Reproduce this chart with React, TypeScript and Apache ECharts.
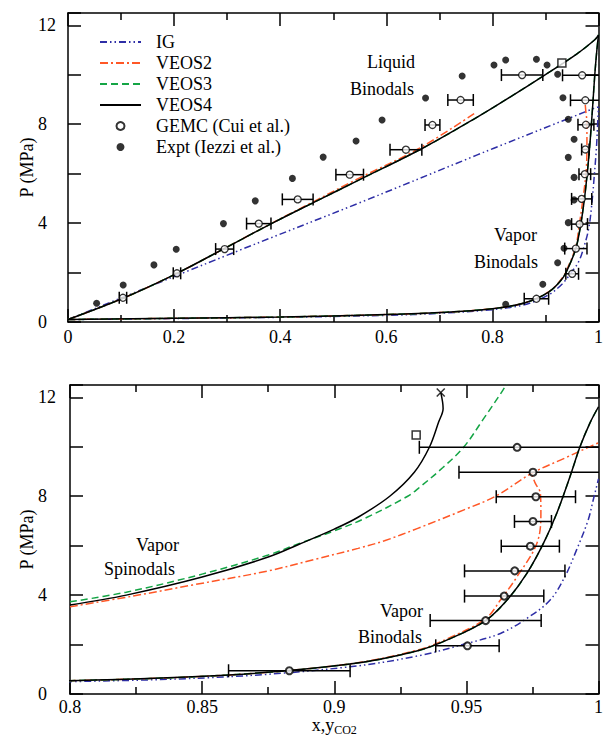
import React, { useEffect, useRef } from 'react';
import * as echarts from 'echarts';

const FONT = 'Liberation Serif, Times New Roman, serif';

// ---------- data (x or y CO2, P in MPa) ----------
const igLiquid = [[0, 0.1], [0.309, 2.78], [0.547, 4.8], [0.7715, 6.76], [0.8027, 7.03], [0.996, 8.68], [1.0, 8.7]];
const igVapor = [[0, 0.1], [0.2, 0.14], [0.4, 0.19], [0.6, 0.27], [0.7, 0.35], [0.8, 0.5], [0.8602, 0.7], [0.9059, 1.1], [0.9316, 1.54], [0.9504, 2.05], [0.9629, 2.45], [0.9729, 3.06], [0.9817, 3.8], [0.9873, 4.75], [0.9917, 5.83], [0.9961, 7.04], [0.998, 7.85], [1.0, 8.7]];

const veos2Liquid = [[0, 0.1], [0.1036, 0.96], [0.2054, 1.97], [0.297, 3.0], [0.3845, 4.0], [0.472, 4.97], [0.547, 5.8], [0.6625, 7.03], [0.7684, 8.47]];
const veos2Vapor = [[0, 0.1], [0.2, 0.15], [0.4, 0.2], [0.6, 0.3], [0.7, 0.38], [0.8, 0.54], [0.8602, 0.77], [0.9059, 1.22], [0.9316, 1.78], [0.9441, 2.3], [0.9573, 3.05], [0.9629, 3.8], [0.9692, 4.75], [0.9767, 6.1], [0.9782, 7.31], [0.978, 8.12], [0.9761, 8.52], [0.9748, 8.86]];
const veos2Spinodal = [[0.8, 3.53], [0.8232, 3.95], [0.8464, 4.41], [0.8746, 4.97], [0.8927, 5.45], [0.909, 5.89], [0.919, 6.2], [0.9316, 6.7], [0.9491, 7.45], [0.961, 8.0], [0.9748, 8.93], [0.9874, 9.55], [0.998, 10.07], [1.0, 10.16]];

const veos3Liquid = [[0, 0.1], [0.1036, 0.96], [0.2054, 1.97], [0.297, 3.0], [0.3845, 3.99], [0.472, 4.93], [0.547, 5.73], [0.6685, 7.03], [0.7715, 8.29], [0.834, 9.11], [0.8964, 9.96], [0.9588, 10.84], [0.993, 11.42], [1.0, 11.6]];
const veos3Vapor = [[0, 0.1], [0.2, 0.15], [0.4, 0.2], [0.6, 0.3], [0.7, 0.38], [0.8, 0.54], [0.8602, 0.77], [0.9059, 1.21], [0.9316, 1.75], [0.9441, 2.25], [0.9573, 2.97], [0.9654, 3.8], [0.9729, 4.88], [0.9792, 6.1], [0.9842, 7.31], [0.9892, 8.79], [0.993, 10.0], [0.9967, 10.95], [1.0, 11.62]];
const veos3Spinodal = [[0.8, 3.73], [0.8213, 4.12], [0.85, 4.85], [0.875, 5.62], [0.8865, 6.08], [0.9, 6.6], [0.9115, 7.1], [0.9278, 8.0], [0.9316, 8.3], [0.941, 9.15], [0.9491, 10.0], [0.9566, 11.15], [0.9639, 12.3], [0.9655, 12.6]];

const veos4Liquid = [[0, 0.1], [0.1036, 0.96], [0.2054, 1.97], [0.297, 3.0], [0.3845, 3.99], [0.472, 4.93], [0.547, 5.73], [0.6685, 7.03], [0.7715, 8.29], [0.834, 9.11], [0.8964, 9.96], [0.9588, 10.84], [0.993, 11.42], [1.0, 11.6]];
const veos4Vapor = [[0, 0.1], [0.2, 0.15], [0.4, 0.2], [0.6, 0.3], [0.7, 0.38], [0.8, 0.54], [0.8602, 0.77], [0.9059, 1.21], [0.9316, 1.75], [0.9441, 2.25], [0.9573, 2.97], [0.9654, 3.8], [0.9729, 4.88], [0.9792, 6.1], [0.9842, 7.31], [0.9892, 8.79], [0.993, 10.0], [0.9967, 10.95], [1.0, 11.62]];
const veos4Spinodal = [[0.8, 3.6], [0.8213, 4.0], [0.85, 4.73], [0.875, 5.54], [0.8865, 6.05], [0.9, 6.67], [0.909, 7.15], [0.921, 8.0], [0.9303, 8.97], [0.936, 9.98], [0.9395, 11.0], [0.9412, 11.55], [0.9403, 12.2]];

// GEMC: [x, P, half-width of error bar]
const gemcLiquid = [[0.1036, 0.98, 0.007], [0.2054, 1.97, 0.007], [0.2953, 2.95, 0.017], [0.3596, 3.98, 0.023], [0.433, 4.96, 0.029], [0.531, 5.96, 0.026], [0.637, 6.97, 0.03], [0.687, 7.97, 0.014], [0.74, 8.98, 0.024], [0.856, 9.99, 0.039]];
const gemcVapor = [[0.883, 0.94, 0.023], [0.9504, 1.95, 0.012], [0.9573, 2.97, 0.021], [0.9643, 3.96, 0.015], [0.9683, 4.98, 0.019], [0.9742, 5.98, 0.011], [0.9752, 6.98, 0.007], [0.9763, 7.98, 0.015], [0.9752, 8.97, 0.028], [0.9692, 9.98, 0.037]];

const expt = [[0.054, 0.76], [0.104, 1.5], [0.162, 2.31], [0.204, 2.94], [0.293, 3.98], [0.353, 4.9], [0.423, 5.81], [0.481, 6.67], [0.543, 7.32], [0.592, 8.17], [0.674, 9.06], [0.743, 9.95], [0.803, 10.4], [0.825, 10.6], [0.883, 10.63], [0.903, 10.4], [0.923, 10.02], [0.933, 9.07], [0.943, 8.2], [0.954, 7.39], [0.943, 6.66], [0.954, 5.85], [0.954, 4.94], [0.943, 4.02], [0.935, 2.98], [0.923, 2.4], [0.895, 1.53], [0.825, 0.72]];

const criticalSquare = [[0.931, 10.48]];
const spinodalEnd = [[0.9403, 12.2]];

const xTicksTop = { min: 0, max: 1, interval: 0.2 };
const xTicksBottom = { min: 0.8, max: 1, interval: 0.05 };
const yTicks = { min: 0, max: 12.5, interval: 2, labelEvery: 4 };

const lineLegendNames = ['IG', 'VEOS2', 'VEOS3', 'VEOS4'];
const markerLegendNames = ['GEMC (Cui et al.)', 'Expt (Iezzi et al.)'];

const C_IG = '#2e2ea6';
const C_V2 = '#ff5726';
const C_V3 = '#14a545';
const C_V4 = '#000000';

const DASH_IG = [7, 3, 1.5, 3, 1.5, 3];
const DASH_V2 = [8, 3, 2, 3];
const DASH_V3 = [7, 4];

const RICH = {
  t: { fontFamily: FONT, fontSize: 18, color: '#000' },
  a: { fontFamily: FONT, fontSize: 18, color: '#000', lineHeight: 16, verticalAlign: 'top' },
  s: { fontFamily: FONT, fontSize: 12, color: '#000', lineHeight: 20, verticalAlign: 'bottom' },
};

function xAxisPair(gridIndex: number, t: any, labelMargin: number, name?: string) {
  const common = {
    type: 'value', gridIndex, min: t.min, max: t.max, interval: t.interval,
    axisLine: { show: true, onZero: false, lineStyle: { color: '#000', width: 1.5 } },
    axisTick: { show: true, inside: true, length: 13, lineStyle: { color: '#000', width: 1.5 } },
    minorTick: { show: true, splitNumber: 2, length: 7, lineStyle: { color: '#000', width: 1.5 } },
    splitLine: { show: false }, minorSplitLine: { show: false },
  };
  return [
    {
      ...common, position: 'bottom',
      axisLabel: {
        margin: labelMargin, color: '#000', fontSize: 18, fontFamily: FONT, rich: RICH,
        formatter: (v: number) => `{t|${+v.toFixed(3)}}`,
      },
      name: name || '', nameLocation: 'middle', nameGap: 22, nameMoveOverlap: false,
      nameTextStyle: { color: '#000', fontFamily: FONT, fontSize: 18, rich: RICH },
    },
    { ...common, position: 'top', axisLabel: { show: false } },
  ];
}

function yAxisPair(gridIndex: number, margin: number, gap: number) {
  const common = {
    type: 'value', gridIndex, min: yTicks.min, max: yTicks.max, interval: yTicks.interval,
    axisLine: { show: true, onZero: false, lineStyle: { color: '#000', width: 1.5 } },
    axisTick: { show: true, inside: true, length: 13, lineStyle: { color: '#000', width: 1.5 } },
    splitLine: { show: false },
  };
  return [
    {
      ...common, position: 'left',
      axisLabel: {
        margin, align: 'left', color: '#000', fontSize: 18, fontFamily: FONT, rich: RICH,
        formatter: (v: number) => (Math.abs(v % yTicks.labelEvery) < 1e-9 ? `{t|${v}}` : ''),
      },
      name: '{t|P (MPa)}', nameLocation: 'middle', nameRotate: 90, nameGap: gap, nameMoveOverlap: false,
      nameTextStyle: { color: '#000', fontFamily: FONT, fontSize: 18, rich: RICH },
    },
    { ...common, position: 'right', axisLabel: { show: false } },
  ];
}

function lineSeries(name: string, data: number[][], color: string, dash: any, xi: number, yi: number, z: number) {
  return {
    type: 'line', name, data, xAxisIndex: xi, yAxisIndex: yi, symbol: 'none', smooth: 0.35,
    lineStyle: { color, width: 1.5, type: dash }, itemStyle: { color }, z, clip: true,
  };
}

function errRender(capH: number, lw: number) {
  return (params: any, api: any) => {
    const x = api.value(0), y = api.value(1), e = api.value(2);
    const a = api.coord([x - e, y]);
    const b = api.coord([x + e, y]);
    const st = { stroke: '#000', lineWidth: lw };
    return {
      type: 'group',
      children: [
        { type: 'line', shape: { x1: a[0], y1: a[1], x2: b[0], y2: b[1] }, style: st },
        { type: 'line', shape: { x1: a[0], y1: a[1] - capH, x2: a[0], y2: a[1] + capH }, style: st },
        { type: 'line', shape: { x1: b[0], y1: b[1] - capH, x2: b[0], y2: b[1] + capH }, style: st },
      ],
    };
  };
}

function textEl(text: string, x: number, y: number) {
  return {
    type: 'text', x, y, z: 100,
    style: { text, fill: '#000', fontSize: 18, fontFamily: FONT, align: 'right', verticalAlign: 'middle' },
  };
}

export default function App() {
  const ref = useRef<HTMLDivElement>(null);
  useEffect(() => {
    if (!ref.current) return;
    const chart = echarts.init(ref.current, null, { renderer: 'svg' });
    const gemcTop = gemcLiquid.concat(gemcVapor);
    const legendData = [
      ...lineLegendNames.map((n) => ({ name: n, itemStyle: { color: 'rgba(0,0,0,0)', borderWidth: 0, opacity: 0 } })),
      ...markerLegendNames.map((n) => ({ name: n })),
    ];
    const option: any = {
      animation: false,
      backgroundColor: '#fff',
      textStyle: { fontFamily: FONT },
      grid: [
        { left: 68, top: 13, width: 534, height: 309 },
        { left: 70, top: 385, width: 532, height: 309 },
      ],
      xAxis: [...xAxisPair(0, xTicksTop, 6), ...xAxisPair(1, xTicksBottom, 4, '{a|x,y}{s|CO2}')],
      yAxis: [...yAxisPair(0, 30, 32), ...yAxisPair(1, 32, 34)],
      legend: {
        data: legendData, orient: 'vertical', left: 99, top: 33, padding: 0,
        itemWidth: 41, itemHeight: 8, itemGap: 3, selectedMode: false,
        textStyle: { fontFamily: FONT, fontSize: 18, color: '#000', padding: [0, 0, 0, 10] },
      },
      graphic: [
        textEl('Liquid', 415, 62),
        textEl('Binodals', 414, 89),
        textEl('Vapor', 537, 235),
        textEl('Binodals', 538, 262),
        textEl('Vapor', 179, 545),
        textEl('Spinodals', 175, 569),
        textEl('Vapor', 423, 611),
        textEl('Binodals', 422, 637),
      ],
      series: [
        // top panel
        lineSeries('IG', igLiquid, C_IG, DASH_IG, 0, 0, 2),
        lineSeries('IG', igVapor, C_IG, DASH_IG, 0, 0, 2),
        lineSeries('VEOS2', veos2Liquid, C_V2, DASH_V2, 0, 0, 3),
        lineSeries('VEOS2', veos2Vapor, C_V2, DASH_V2, 0, 0, 3),
        lineSeries('VEOS3', veos3Liquid, C_V3, DASH_V3, 0, 0, 4),
        lineSeries('VEOS3', veos3Vapor, C_V3, DASH_V3, 0, 0, 4),
        lineSeries('VEOS4', veos4Liquid, C_V4, 'solid', 0, 0, 5),
        lineSeries('VEOS4', veos4Vapor, C_V4, 'solid', 0, 0, 5),
        {
          type: 'custom', name: 'gemc-err-top', xAxisIndex: 0, yAxisIndex: 0, clip: true,
          data: gemcTop, encode: { x: 0, y: 1 }, renderItem: errRender(6, 1.5), z: 6,
        },
        {
          type: 'scatter', name: 'GEMC (Cui et al.)', xAxisIndex: 0, yAxisIndex: 0,
          data: gemcTop.map((d) => [d[0], d[1]]), symbol: 'circle', symbolSize: 7,
          itemStyle: { color: '#fff', borderColor: '#000', borderWidth: 1.3 }, z: 7,
        },
        {
          type: 'scatter', name: 'Expt (Iezzi et al.)', xAxisIndex: 0, yAxisIndex: 0,
          data: expt, symbol: 'circle', symbolSize: 7, itemStyle: { color: '#000' }, z: 7,
        },
        {
          type: 'scatter', name: 'critical', xAxisIndex: 0, yAxisIndex: 0, data: criticalSquare,
          symbol: 'rect', symbolSize: 8, itemStyle: { color: '#fff', borderColor: '#000', borderWidth: 1.5 }, z: 8,
        },
        // bottom panel
        lineSeries('IG', igVapor, C_IG, DASH_IG, 2, 2, 2),
        lineSeries('VEOS2', veos2Vapor, C_V2, DASH_V2, 2, 2, 3),
        lineSeries('VEOS2', veos2Spinodal, C_V2, DASH_V2, 2, 2, 3),
        lineSeries('VEOS3', veos3Vapor, C_V3, DASH_V3, 2, 2, 4),
        lineSeries('VEOS3', veos3Spinodal, C_V3, DASH_V3, 2, 2, 4),
        lineSeries('VEOS4', veos4Vapor, C_V4, 'solid', 2, 2, 5),
        lineSeries('VEOS4', veos4Spinodal, C_V4, 'solid', 2, 2, 5),
        {
          type: 'custom', name: 'gemc-err-bottom', xAxisIndex: 2, yAxisIndex: 2, clip: true,
          data: gemcVapor, encode: { x: 0, y: 1 }, renderItem: errRender(6.5, 1.5), z: 6,
        },
        {
          type: 'scatter', name: 'GEMC (Cui et al.)', xAxisIndex: 2, yAxisIndex: 2,
          data: gemcVapor.map((d) => [d[0], d[1]]), symbol: 'circle', symbolSize: 7,
          itemStyle: { color: '#fff', borderColor: '#000', borderWidth: 2 }, z: 7,
        },
        {
          type: 'scatter', name: 'critical', xAxisIndex: 2, yAxisIndex: 2, data: criticalSquare,
          symbol: 'rect', symbolSize: 8, itemStyle: { color: '#fff', borderColor: '#000', borderWidth: 1.5 }, z: 8,
        },
        {
          type: 'scatter', name: 'spinodal-end', xAxisIndex: 2, yAxisIndex: 2, data: spinodalEnd,
          symbol: 'path://M0,0L10,10M10,0L0,10', symbolSize: 8,
          itemStyle: { color: 'none', borderColor: '#000', borderWidth: 1.5 }, z: 8,
        },
      ],
    };
    chart.setOption(option);
    return () => chart.dispose();
  }, []);
  return (
    <div
      ref={ref}
      style={{ position: 'fixed', left: 0, top: 0, width: 606, height: 746, background: '#fff' }}
    />
  );
}
